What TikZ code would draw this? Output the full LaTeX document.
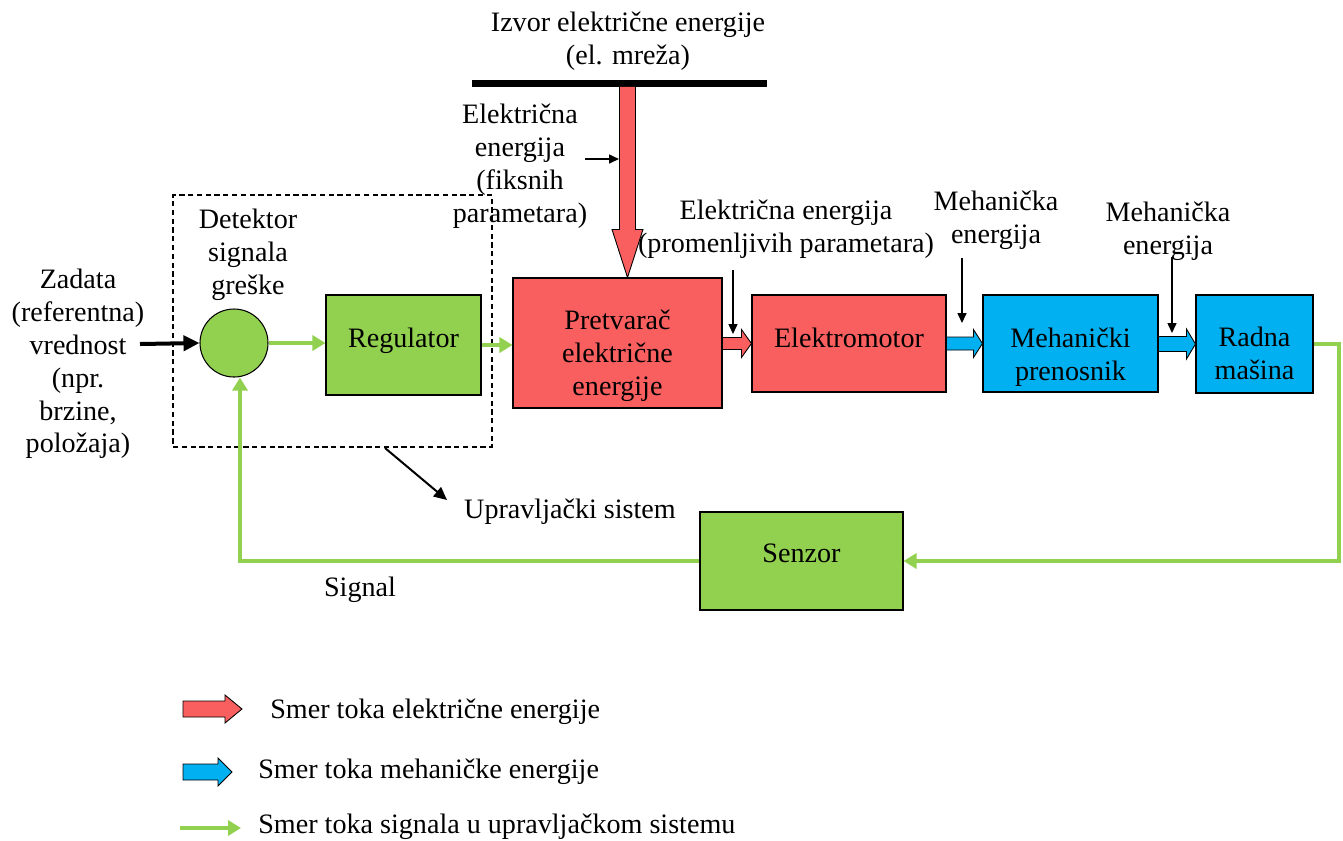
\documentclass[tikz,border=0pt]{standalone}
\usepackage{fontspec}
\setmainfont{Liberation Serif}
\usetikzlibrary{arrows.meta,calc}
\definecolor{elred}{RGB}{250,95,95}
\definecolor{mechblue}{RGB}{0,176,240}
\definecolor{siggreen}{RGB}{146,208,80}
\newcommand\labfont{\fontsize{16}{18.7}\selectfont}
\def\u{0.02cm}
% horizontal block arrow: #1 from, #2 to (tip), #3 fill, #4 shaft half, #5 head half, #6 head length
\newcommand\hblock[6]{%
  \draw[fill=#3, line width=0.5pt]
    ($(#1 |- #2)+(0,#4)$) -- ($(#2)+(-#6,#4)$) -- ($(#2)+(-#6,#5)$) -- (#2)
    -- ($(#2)+(-#6,-#5)$) -- ($(#2)+(-#6,-#4)$) -- ($(#1 |- #2)+(0,-#4)$) -- cycle;}
\begin{document}
\begin{tikzpicture}[x=0.02cm,y=-0.02cm,
  box/.style={draw, line width=0.6pt, inner sep=0pt},
  txt/.style={align=center, font=\labfont, inner sep=0pt},
  sigline/.style={draw=siggreen, line width=0.08cm, -{Triangle[length=0.26cm,width=0.3cm]}},
  thinarrow/.style={draw=black, line width=0.03cm, -{Triangle[length=0.2cm,width=0.18cm]}},
  thickarrow/.style={draw=black, line width=0.08cm, -{Triangle[length=0.32cm,width=0.3cm]}}]
\useasboundingbox (0,0) rectangle (1343,840);

% source
\node[txt] (src) at (628,41) {Izvor električne energije\\(el. mreža)};
\node[fill=black, inner sep=0pt, minimum width=295*\u, minimum height=7*\u] (bar) at (619.5,83) {};

% boxes
\node[box, fill=siggreen, minimum width=155*\u, minimum height=100*\u] (reg) at (403.5,345) {};
\node[txt] (regt) at ($(reg.center)+(0,-4)$) {Regulator};
\node[box, fill=elred, minimum width=209*\u, minimum height=130*\u] (pre) at (617.5,343) {};
\node[txt] (pret) at ($(pre.center)+(0,13)$) {Pretvarač\\električne\\energije};
\node[box, fill=elred, minimum width=194*\u, minimum height=97*\u] (elm) at (849,343.5) {};
\node[txt] (elmt) at ($(elm.center)+(0,-6)$) {Elektromotor};
\node[box, fill=mechblue, minimum width=175*\u, minimum height=97*\u] (mp) at (1070.5,343.5) {};
\node[txt] (mpt) at ($(mp.center)+(0,13.5)$) {Mehanički\\prenosnik};
\node[box, fill=mechblue, minimum width=117*\u, minimum height=98*\u] (rm) at (1254.5,344) {};
\node[txt] (rmt) at ($(rm.center)+(0,9.5)$) {Radna\\mašina};
\node[box, fill=siggreen, minimum width=203*\u, minimum height=98*\u] (sen) at (801.5,561) {};
\node[txt] (sent) at ($(sen.center)+(0,-8)$) {Senzor};
\node[draw, dashed, dash pattern=on 3pt off 2pt, line width=0.6pt, inner sep=0pt, minimum width=319*\u, minimum height=252*\u] (ctrl) at (332.5,321) {};

% labels
\node[txt] (fix) at (520,166) {Električna\\energija\\(fiksnih\\parametara)};
\node[txt] (evar) at (786,229) {Električna energija\\(promenljivih parametara)};
\node[txt] (me1) at (996,220) {Mehanička\\energija};
\node[txt] (me2) at (1168,231) {Mehanička\\energija};
\node[txt] (ref) at (78,364) {Zadata\\(referentna)\\vrednost\\(npr.\\brzine,\\položaja)};
\node[txt] (det) at (248,255) {Detektor\\signala\\greške};
\node[txt] (ups) at (570,512) {Upravljački sistem};
\node[txt] (sigl) at (360,590) {Signal};

% big vertical arrow
\coordinate (vtip) at ($(pre.north)+(10,0)$);
\fill[elred] ($(vtip |- bar.south)+(-8,0)$) -- ($(vtip)+(-8,-48)$) -- ($(vtip)+(-15.5,-48)$) -- (vtip)
  -- ($(vtip)+(15.5,-48)$) -- ($(vtip)+(8,-48)$) -- ($(vtip |- bar.south)+(8,0)$) -- cycle;
\draw[line width=0.5pt] ($(vtip |- bar.south)+(-8,0)$) -- ($(vtip)+(-8,-48)$) -- ($(vtip)+(-15.5,-48)$) -- (vtip)
  -- ($(vtip)+(15.5,-48)$) -- ($(vtip)+(8,-48)$) -- ($(vtip |- bar.south)+(8,0)$);

% block arrows between boxes
\hblock{pre.east}{elm.west}{elred}{6}{14}{10}
\hblock{elm.east}{mp.west}{mechblue}{6.5}{14}{9}
\hblock{mp.east}{rm.west}{mechblue}{7.5}{15}{9}

% small black arrows
\coordinate (fa1) at (585,159);
\coordinate (fa2) at (619,159);
\draw[thinarrow] (fa1) -- (fa2);
\coordinate (pa1) at (733,270);
\coordinate (pa2) at (733,334);
\draw[thinarrow] (pa1) -- (pa2);
\coordinate (ma1) at (962,258);
\coordinate (ma2) at (962,323);
\draw[thinarrow] (ma1) -- (ma2);
\coordinate (mb1) at (1172,257);
\coordinate (mb2) at (1172,333);
\draw[thinarrow] (mb1) -- (mb2);
\coordinate (in1) at (140,344);
\coordinate (ua1) at (385,448);
\coordinate (ua2) at (447,500);
\draw[line width=0.04cm, -{Triangle[length=0.26cm,width=0.24cm]}] (ua1) -- (ua2);

% signal lines
\node[box, circle, fill=siggreen, minimum size=68*\u] (circ) at (234,343) {};
\draw[sigline] (rm.east) -- ++(25,0) |- (sen.east);
\draw[sigline] (sen.west) -| ($(circ.south)+(6,0)$);
\draw[thickarrow] (in1) -- (circ.west);
\draw[sigline] (circ.east) -- (circ.east -| reg.west);
\draw[sigline] (reg.east) -- (reg.east -| pre.west);

% legend
\coordinate (l1a) at (183,709);
\coordinate (l1b) at (242,709);
\hblock{l1a}{l1b}{elred}{8}{14}{17}
\coordinate (l2a) at (183,772);
\coordinate (l2b) at (232,772);
\hblock{l2a}{l2b}{mechblue}{8}{14}{14}
\coordinate (l3a) at (180,828);
\coordinate (l3b) at (241,828);
\draw[sigline] (l3a) -- (l3b);
\node[txt, anchor=west] (lg1) at (270,712) {Smer toka električne energije};
\node[txt, anchor=west] (lg2) at (258,772) {Smer toka mehaničke energije};
\node[txt, anchor=west] (lg3) at (258,827) {Smer toka signala u upravljačkom sistemu};
\end{tikzpicture}
\end{document}
